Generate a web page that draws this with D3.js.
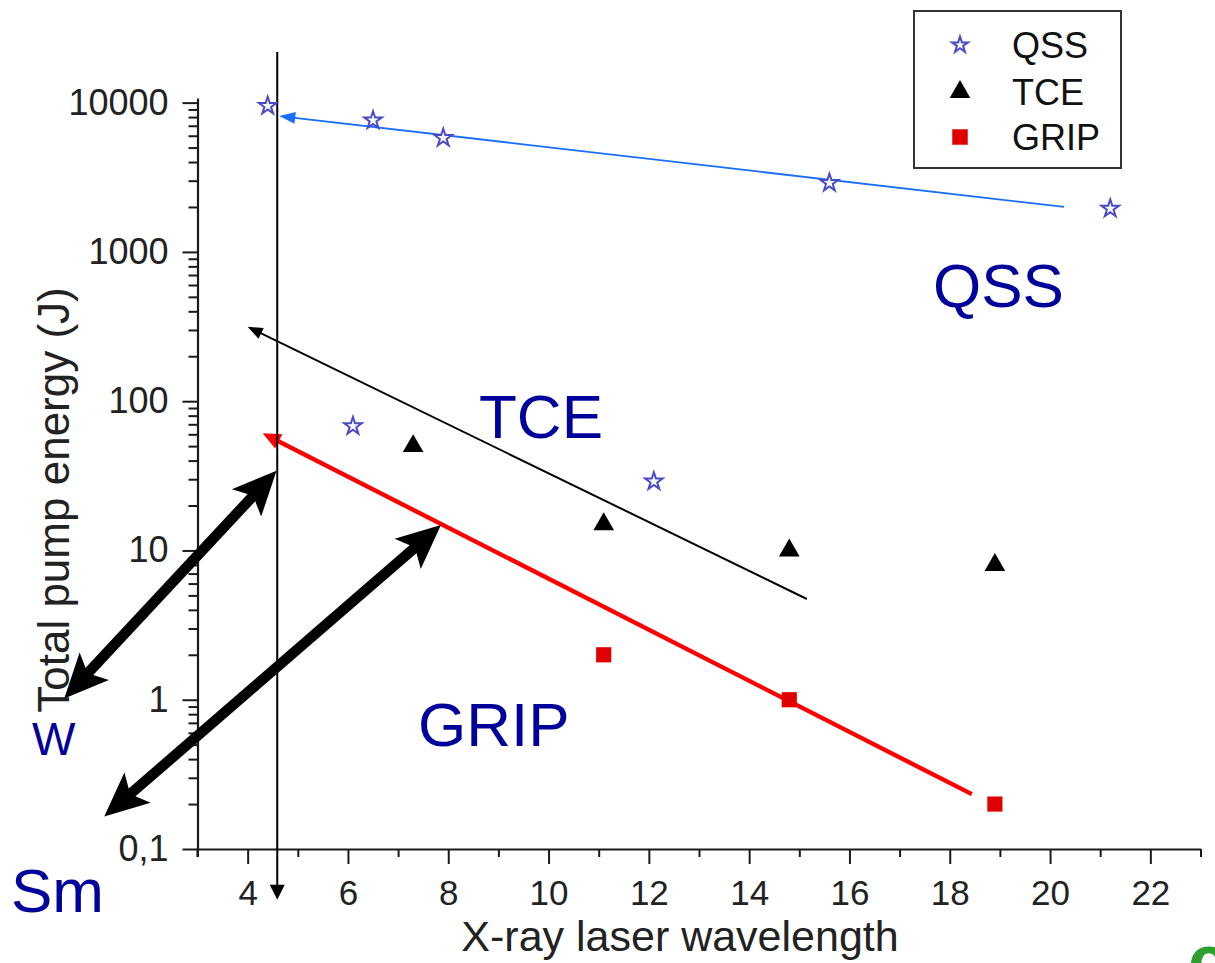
<!DOCTYPE html>
<html>
<head>
<meta charset="utf-8">
<script src="https://cdn.jsdelivr.net/npm/d3@7"></script>
<style>
  body { margin: 0; background: #fff; }
  svg { display: block; }
  text { font-family: Arial, "Liberation Sans", Helvetica, sans-serif; }
</style>
</head>
<body>
<svg id="chart" width="1215" height="963"></svg>
<script>
// Measured points: wavelength (nm) vs total pump energy (J)
const qssWavelength = [4.4, 6.5, 7.9, 15.6, 21.2, 6.1, 12.1];
const qssEnergy     = [9500, 7600, 5800, 2900, 1950, 68, 29];
const tceWavelength = [7.3, 11.1, 14.8, 18.9];
const tceEnergy     = [50, 15, 10, 8];
const gripWavelength = [11.1, 14.8, 18.9];
const gripEnergy     = [2, 1, 0.2];

// Axis ticks
const xMajorTicks = [4, 6, 8, 10, 12, 14, 16, 18, 20, 22];
const xMinorTicks = [3, 5, 7, 9, 11, 13, 15, 17, 19, 21, 23];
const yMajorTicks = [0.1, 1, 10, 100, 1000, 10000];
const yTickLabels = ["0,1", "1", "10", "100", "1000", "10000"];

// Trend lines: [wavelength, energy] from arrow tip to tail
const qssTrend  = [[4.63, 8130], [20.28, 2000]];
const tceTrend  = [[4.0, 315], [15.15, 4.73]];
const gripTrend = [[4.30, 61], [18.44, 0.233]];
// Vertical marker at the shortest wavelength
const markerLine = [[4.59, 21800], [4.59, 0.0457]];
// Double-headed arrows pointing at the element labels
const wArrow  = [[4.576, 34.2], [0.343, 1.02]];
const smArrow = [[7.854, 14.8], [1.14, 0.165]];

const svg = d3.select("#chart");
const x = d3.scaleLinear().domain([3, 23]).range([197.5, 1200.5]);
const y = d3.scaleLog().domain([0.1, 10740]).range([849, 98]);

const axisColor = "#1a1a1a";

// ---- axes ----
const xAxis = svg.append("g").attr("transform", `translate(0,${y(0.1)})`);
xAxis.call(d3.axisBottom(x).tickValues(xMajorTicks).tickSize(15).tickSizeOuter(0).tickPadding(16)
  .tickFormat(d3.format("d")));
const xMinor = svg.append("g").attr("transform", `translate(0,${y(0.1)})`);
xMinor.call(d3.axisBottom(x).tickValues(xMinorTicks).tickSize(8).tickSizeOuter(0).tickFormat(""));
xMinor.select(".domain").remove();

const yAxis = svg.append("g").attr("transform", `translate(${x(3)},0)`);
yAxis.call(d3.axisLeft(y).tickValues(yMajorTicks).tickSize(15).tickSizeOuter(0).tickPadding(14)
  .tickFormat((d, i) => yTickLabels[i]));
const yMinorValues = [];
yMajorTicks.slice(0, -1).forEach(v => { for (let k = 2; k <= 9; k++) yMinorValues.push(v * k); });
const yMinor = svg.append("g").attr("transform", `translate(${x(3)},0)`);
yMinor.call(d3.axisLeft(y).tickValues(yMinorValues).tickSize(9).tickSizeOuter(0).tickFormat(""));
yMinor.select(".domain").remove();

svg.selectAll(".domain").attr("stroke", axisColor).attr("stroke-width", 2.2);
svg.selectAll(".tick line").attr("stroke", axisColor).attr("stroke-width", 2);
xAxis.selectAll(".tick text").attr("font-size", 35).attr("fill", "#222");
yAxis.selectAll(".tick text").attr("font-size", 36).attr("fill", "#222");
// stub below the origin so the left axis crosses the bottom one
svg.append("line").attr("x1", x(3)).attr("x2", x(3)).attr("y1", y(0.1)).attr("y2", y(0.1) + 8)
  .attr("stroke", axisColor).attr("stroke-width", 2.2);

// axis titles
svg.append("text").attr("x", 680).attr("y", 951).attr("text-anchor", "middle")
  .attr("font-size", 43).attr("fill", "#222").text("X-ray laser wavelength");
svg.append("text").attr("transform", "translate(69,500) rotate(-90)").attr("text-anchor", "middle")
  .attr("font-size", 44).attr("fill", "#222").text("Total pump energy (J)");

// ---- arrow helpers ----
function pt(d) { return [x(d[0]), y(d[1])]; }
function headPoints(tip, from, len, halfW, notch) {
  const dx = tip[0] - from[0], dy = tip[1] - from[1];
  const L = Math.hypot(dx, dy), ux = dx / L, uy = dy / L, nx = -uy, ny = ux;
  const bx = tip[0] - ux * len, by = tip[1] - uy * len;
  const pts = [tip, [bx + nx * halfW, by + ny * halfW]];
  if (notch) pts.push([tip[0] - ux * len * notch, tip[1] - uy * len * notch]);
  pts.push([bx - nx * halfW, by - ny * halfW]);
  return pts;
}
function shorten(a, b, d) {
  const L = Math.hypot(b[0] - a[0], b[1] - a[1]);
  return [a[0] + (b[0] - a[0]) * d / L, a[1] + (b[1] - a[1]) * d / L];
}
function arrowLine(data, color, width, len, halfW, both, notch) {
  const a = pt(data[0]), b = pt(data[1]);
  const start = shorten(a, b, len * 0.7);
  const end = both ? shorten(b, a, len * 0.7) : b;
  svg.append("line").attr("x1", start[0]).attr("y1", start[1]).attr("x2", end[0]).attr("y2", end[1])
    .attr("stroke", color).attr("stroke-width", width);
  svg.append("polygon").attr("points", headPoints(a, b, len, halfW, notch).join(" ")).attr("fill", color);
  if (both) svg.append("polygon").attr("points", headPoints(b, a, len, halfW, notch).join(" ")).attr("fill", color);
}

// trend lines
arrowLine(qssTrend, "#1a6dff", 1.8, 16, 6, false);
arrowLine(tceTrend, "#000", 2, 15, 6, false);
arrowLine(gripTrend, "#ff0000", 4.4, 18, 8, false);
arrowLine([markerLine[1], markerLine[0]], "#000", 2, 15, 7.5, false);

// thick annotation arrows
arrowLine(wArrow, "#000", 10.5, 44, 20, true, 0.78);
arrowLine(smArrow, "#000", 10.5, 44, 20, true, 0.78);

// ---- data symbols ----
const star = d3.symbol().type(d3.symbolStar).size(95);
const tri = d3.symbol().type(d3.symbolTriangle).size(185);
const sq = d3.symbol().type(d3.symbolSquare).size(230);

svg.append("g").selectAll("path").data(qssWavelength).join("path")
  .attr("d", star).attr("transform", (d, i) => `translate(${x(d)},${y(qssEnergy[i])})`)
  .attr("fill", "#fff").attr("stroke", "#4a4ac8").attr("stroke-width", 2);
svg.append("g").selectAll("path").data(tceWavelength).join("path")
  .attr("d", tri).attr("transform", (d, i) => `translate(${x(d)},${y(tceEnergy[i])})`)
  .attr("fill", "#000");
svg.append("g").selectAll("path").data(gripWavelength).join("path")
  .attr("d", sq).attr("transform", (d, i) => `translate(${x(d)},${y(gripEnergy[i])})`)
  .attr("fill", "#e00000");

// ---- region labels ----
const labelBlue = "#00009a";
svg.append("text").attr("x", 933).attr("y", 307).attr("font-size", 62).attr("fill", labelBlue).text("QSS");
svg.append("text").attr("x", 479).attr("y", 438).attr("font-size", 62).attr("fill", labelBlue).text("TCE");
svg.append("text").attr("x", 418).attr("y", 746).attr("font-size", 62).attr("fill", labelBlue).text("GRIP");
svg.append("text").attr("x", 32).attr("y", 755).attr("font-size", 46).attr("fill", labelBlue).text("W");
svg.append("text").attr("x", 11).attr("y", 912).attr("font-size", 62).attr("fill", labelBlue).text("Sm");
svg.append("text").attr("x", 1188).attr("y", 985).attr("font-size", 72).attr("font-weight", "bold")
  .attr("fill", "#2e9e2e").text("c");

// ---- legend ----
const legend = svg.append("g");
legend.append("rect").attr("x", 914).attr("y", 11).attr("width", 207).attr("height", 157)
  .attr("fill", "#fff").attr("stroke", "#333").attr("stroke-width", 2);
const legendItems = [
  { name: "QSS", sym: d3.symbol().type(d3.symbolStar).size(80), fill: "#fff", stroke: "#4a4ac8", cy: 45 },
  { name: "TCE", sym: d3.symbol().type(d3.symbolTriangle).size(185), fill: "#000", stroke: "none", cy: 92 },
  { name: "GRIP", sym: d3.symbol().type(d3.symbolSquare).size(240), fill: "#e00000", stroke: "none", cy: 137 }
];
legendItems.forEach(it => {
  legend.append("path").attr("d", it.sym).attr("transform", `translate(960,${it.cy})`)
    .attr("fill", it.fill).attr("stroke", it.stroke).attr("stroke-width", 2);
  legend.append("text").attr("x", 1012).attr("y", it.cy).attr("dy", "0.36em")
    .attr("font-size", 36).attr("fill", "#111").text(it.name);
});
</script>
</body>
</html>
